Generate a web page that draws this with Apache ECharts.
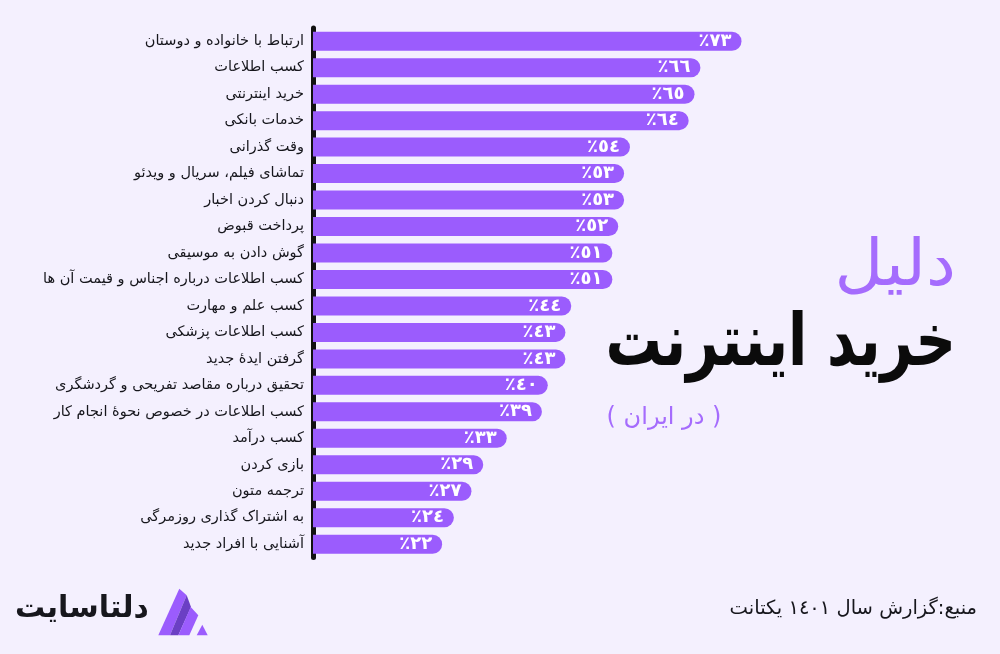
<!DOCTYPE html>
<html>
<head>
<meta charset="utf-8">
<style>
html,body{margin:0;padding:0;background:#f4f0fe;}
#c{width:1000px;height:654px;}
</style>
<script src="https://cdn.jsdelivr.net/npm/echarts@6/dist/echarts.min.js"></script>
</head>
<body>
<div id="c"></div>
<script>
var categories = [
  'ارتباط با خانواده و دوستان',
  'کسب اطلاعات',
  'خرید اینترنتی',
  'خدمات بانکی',
  'وقت گذرانی',
  'تماشای فیلم، سریال و ویدئو',
  'دنبال کردن اخبار',
  'پرداخت قبوض',
  'گوش دادن به موسیقی',
  'کسب اطلاعات درباره اجناس و قیمت آن ها',
  'کسب علم و مهارت',
  'کسب اطلاعات پزشکی',
  'گرفتن ایدهٔ جدید',
  'تحقیق درباره مقاصد تفریحی و گردشگری',
  'کسب اطلاعات در خصوص نحوهٔ انجام کار',
  'کسب درآمد',
  'بازی کردن',
  'ترجمه متون',
  'به اشتراک گذاری روزمرگی',
  'آشنایی با افراد جدید'
];
var values = [73, 66, 65, 64, 54, 53, 53, 52, 51, 51, 44, 43, 43, 40, 39, 33, 29, 27, 24, 22];

var titleTop = 'دلیل';
var titleMain = 'خرید اینترنت';
var titleSub = '( در ایران )';
var brandName = 'دلتاسایت';
var sourceText = 'منبع:گزارش سال ١٤٠١ یکتانت';

var FONT = '"DejaVu Sans", "Noto Sans", sans-serif';
var arabicDigits = ['٠','١','٢','٣','٤','٥','٦','٧','٨','٩'];
function toArabic(n){ return String(n).split('').map(function(d){return arabicDigits[+d];}).join(''); }

var chart = echarts.init(document.getElementById('c'), null, {renderer:'canvas'});
var option = {
  backgroundColor: '#f4f0fe',
  animation: false,
  grid: {left: 313, top: 28, width: 587, height: 529.4},
  xAxis: {type: 'value', min: 0, max: 100, show: false},
  yAxis: {
    type: 'category', data: categories, inverse: true,
    axisLine: {show: true, lineStyle: {color: '#111', width: 5, cap: 'round'}},
    axisTick: {show: false},
    axisLabel: {color: '#16161c', fontSize: 14.5, fontFamily: FONT, margin: 9}
  },
  series: [{
    type: 'bar', data: values, barWidth: 19, z: 1,
    itemStyle: {color: '#9b5cfd', borderRadius: [0, 10, 10, 0]},
    label: {
      show: true, position: 'insideRight', distance: 10,
      color: '#fff', fontSize: 18, fontWeight: 'bold', fontFamily: FONT,
      formatter: function(p){ return '٪' + toArabic(p.value); }
    }
  }],
  graphic: [
    {type: 'text', x: 956, y: 268, scaleX: 1.05, style: {x: 0, y: 0, text: titleTop, fill: '#a56cfd', font: 'normal 64px ' + FONT, textAlign: 'right', textVerticalAlign: 'middle'}},
    {type: 'text', x: 956, y: 346, scaleX: 0.77, style: {x: 0, y: 0, text: titleMain, fill: '#0b0b0b', font: 'bold 73px ' + FONT, textAlign: 'right', textVerticalAlign: 'middle'}},
    {type: 'text', x: 664, y: 418, style: {x: 0, y: 0, text: titleSub, fill: '#a56cfd', font: 'normal 24px ' + FONT, textAlign: 'center', textVerticalAlign: 'middle'}},
    {type: 'text', x: 15, y: 609, style: {x: 0, y: 0, text: brandName, fill: '#17171d', font: 'bold 30px ' + FONT, textAlign: 'left', textVerticalAlign: 'middle'}},
    {type: 'text', x: 977, y: 609, style: {x: 0, y: 0, text: sourceText, fill: '#16161c', font: 'normal 19.5px ' + FONT, textAlign: 'right', textVerticalAlign: 'middle'}},
    {type: 'polygon', shape: {points: [[158.3,635.3],[179.3,588.7],[186.7,595.3],[170,635.3]]}, style: {fill: '#9b5cfd'}},
    {type: 'polygon', shape: {points: [[170,635.3],[186.7,595.3],[191,607],[178.3,635.3]]}, style: {fill: '#6b3fc4'}},
    {type: 'polygon', shape: {points: [[178.3,635.3],[190.7,607],[198.3,615.3],[189.3,635.3]]}, style: {fill: '#9b5cfd'}},
    {type: 'polygon', shape: {points: [[196.7,635.3],[202.3,624.7],[207.7,635.3]]}, style: {fill: '#9b5cfd'}}
  ]
};
chart.setOption(option);
</script>
</body>
</html>
